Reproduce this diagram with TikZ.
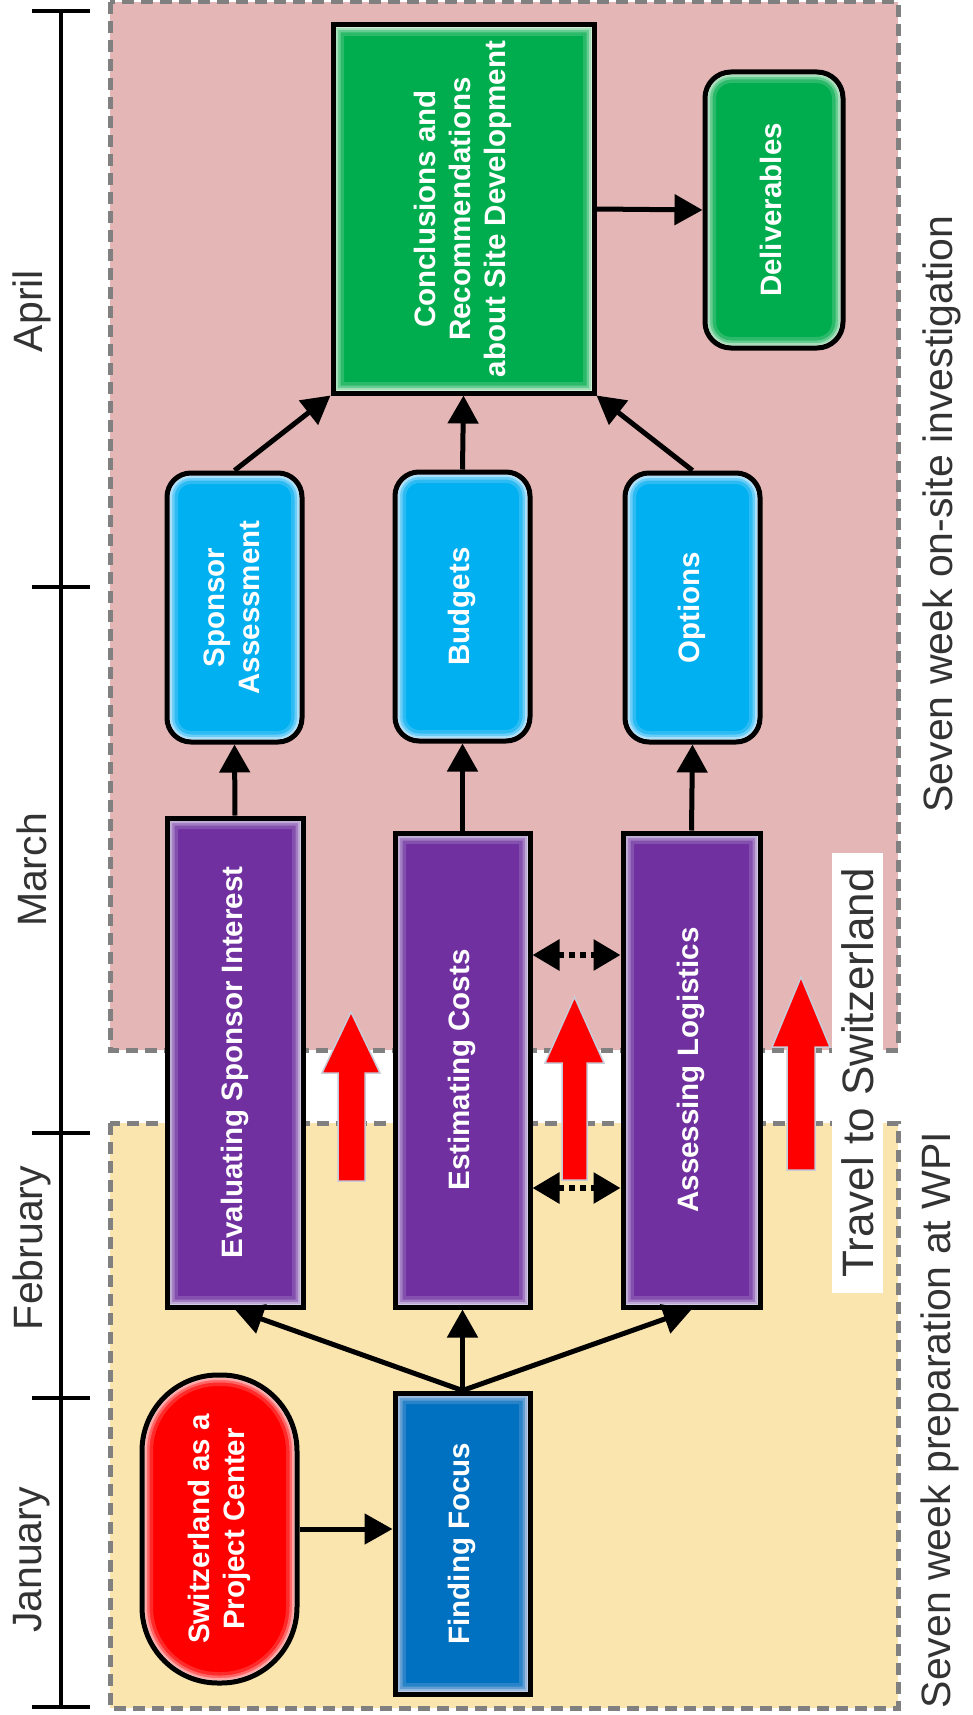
\documentclass[tikz,border=0pt]{standalone}
\usepackage{fontspec}
\setmainfont{Liberation Sans}
\usetikzlibrary{arrows.meta}
\definecolor{pinkbg}{HTML}{E4B6B5}
\definecolor{yellowbg}{HTML}{FAE5AF}
\definecolor{dashgray}{HTML}{808080}
\definecolor{cgreen}{HTML}{00AD4E}
\definecolor{ccyan}{HTML}{00B0F0}
\definecolor{cpurple}{HTML}{7030A0}
\definecolor{cblue}{HTML}{0070C0}
\definecolor{cred}{HTML}{FF0000}
\definecolor{glowgreen}{HTML}{D8F0DC}
\definecolor{glowcyan}{HTML}{DDEEFF}
\definecolor{glowpurple}{HTML}{D8D0E8}
\definecolor{glowblue}{HTML}{C8D0E8}
\definecolor{glowred}{HTML}{FFD8D8}
\definecolor{lblgray}{HTML}{333333}
\definecolor{arrowedge}{HTML}{C8CCD8}
\newcommand\nodetxt[1]{\rotatebox{90}{\fontsize{29.5}{35}\selectfont\bfseries\begin{tabular}{@{}c@{}}#1\end{tabular}}}
\tikzset{
  glowing/.style 2 args={path picture={
    \foreach \w/\o in {22/0.2,15/0.35,10/0.55,6/0.85}{
      \draw[#1, line width=\w pt, opacity=\o, rounded corners=#2]
        (path picture bounding box.south west) rectangle (path picture bounding box.north east);}}},
  box/.style={draw=black, line width=5pt, inner sep=0pt, text=white, align=center},
  greenbox/.style={box, fill=cgreen, glowing={glowgreen}{0.01pt}},
  greenround/.style={box, fill=cgreen, rounded corners=26pt, glowing={glowgreen}{26pt}},
  cyanround/.style={box, fill=ccyan, rounded corners=24pt, glowing={glowcyan}{24pt}},
  purplebox/.style={box, fill=cpurple, glowing={glowpurple}{0.01pt}},
  bluebox/.style={box, fill=cblue, glowing={glowblue}{0.01pt}},
  redpill/.style={box, fill=cred, rounded corners=76pt, glowing={glowred}{76pt}},
  conn/.style={-{Triangle[length=28pt,width=30pt]}, line width=5pt},
  dotconn/.style={{Triangle[length=27pt,width=30pt]}-{Triangle[length=27pt,width=30pt]}, line width=6pt, dash pattern=on 6pt off 5pt},
  region/.style={draw=dashgray, line width=5pt, dash pattern=on 12pt off 7pt},
  month/.style={rotate=90, text=lblgray, font=\fontsize{41}{46}\selectfont, inner sep=0pt},
  phase/.style={rotate=90, text=lblgray, font=\fontsize{41}{46}\selectfont, inner sep=0pt},
  blockarrow/.style={fill=cred, draw=arrowedge, line width=1.5pt},
  tick/.style={line width=4.5pt}
}
\begin{document}
\begin{tikzpicture}[x=1pt, y=-1pt]
\useasboundingbox (0,0) rectangle (973,1715);
\fill[white] (0,0) rectangle (973,1715);
% regions
\fill[pinkbg] (110,2) rectangle (898,1050);
\draw[region] (110,2) rectangle (898,1050);
\fill[yellowbg] (110,1123) rectangle (898,1708);
\draw[region] (110,1123) rectangle (898,1708);
% timeline
\draw[tick] (61,11) -- (61,1707);
\foreach \ty in {11,587,1133,1398,1707}{\draw[tick] (32,\ty) -- (90,\ty);}
\node[month] (mapr) at (32,311) {April};
\node[month] (mmar) at (32,870) {March};
\node[month] (mfeb) at (32,1248) {February};
\node[month] (mjan) at (32,1560) {January};
% phase labels
\node[phase] (pon) at (942,514) {Seven week on-site investigation};
\node[phase] (ppre) at (940,1420) {Seven week preparation at WPI};
\node[rotate=90, fill=white, minimum width=440pt, minimum height=51pt, inner sep=0pt, text=lblgray, font=\fontsize{44}{50}\selectfont] (trav) at (857.5,1073) {Travel to Switzerland};
% red block arrows
\filldraw[blockarrow] (338,1181) -- (338,1073) -- (322,1073) -- (351,1012) -- (380,1073) -- (365,1073) -- (365,1181) -- cycle;
\filldraw[blockarrow] (562,1180) -- (562,1063) -- (545,1063) -- (574.5,997) -- (604,1063) -- (587,1063) -- (587,1180) -- cycle;
\filldraw[blockarrow] (787,1170) -- (787,1047) -- (772,1047) -- (801,977) -- (830,1047) -- (815,1047) -- (815,1170) -- cycle;
% nodes
\node[greenbox, minimum width=261pt, minimum height=368pt] (co) at (463.5,209) {\nodetxt{Conclusions and\\Recommendations\\about Site Development}};
\node[greenround, minimum width=138pt, minimum height=276pt] (de) at (774,210) {\nodetxt{Deliverables}};
\node[cyanround, minimum width=135pt, minimum height=269pt] (sa) at (234.5,607.5) {\nodetxt{Sponsor\\Assessment}};
\node[cyanround, minimum width=135pt, minimum height=269pt] (bu) at (462.5,606.5) {\nodetxt{Budgets}};
\node[cyanround, minimum width=135pt, minimum height=269pt] (op) at (692.5,607.5) {\nodetxt{Options}};
\node[purplebox, minimum width=136pt, minimum height=489pt] (ev) at (235,1062.5) {\nodetxt{Evaluating Sponsor Interest}};
\node[purplebox, minimum width=135pt, minimum height=474pt] (ec) at (462.5,1070) {\nodetxt{Estimating Costs}};
\node[purplebox, minimum width=137pt, minimum height=474pt] (al) at (691.5,1070) {\nodetxt{Assessing Logistics}};
\node[bluebox, minimum width=135pt, minimum height=301pt] (ff) at (462.5,1543.5) {\nodetxt{Finding Focus}};
\node[redpill, minimum width=155pt, minimum height=308pt] (sw) at (219.5,1529) {\nodetxt{Switzerland as a\\Project Center}};
% connectors
\draw[conn] (sw.east) -- (sw.east -| ff.west);
\draw[conn] (ff.north) -- (ev.south);
\draw[conn] (ff.north) -- (ec.south);
\draw[conn] (ff.north) -- (al.south);
\draw[conn] (ev.north) -- (sa.south);
\draw[conn] (ec.north) -- (bu.south);
\draw[conn] (al.north) -- (op.south);
\draw[conn] (sa.north) -- (co.south west);
\draw[conn] (bu.north) -- (co.south);
\draw[conn] (op.north) -- (co.south east);
\draw[conn] (co.east) -- (de.west);
\coordinate (d1) at (0,955);
\coordinate (d2) at (0,1188);
\draw[dotconn] (ec.east |- d1) -- (al.west |- d1);
\draw[dotconn] (ec.east |- d2) -- (al.west |- d2);
\end{tikzpicture}
\end{document}
